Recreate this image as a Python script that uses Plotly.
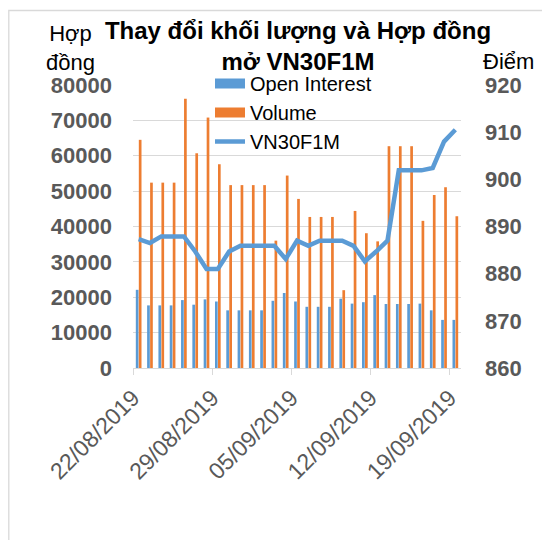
import plotly.graph_objects as go
import pandas as pd

# ---- data ----
dates = pd.date_range("2019-08-22", "2019-09-19", freq="D")
open_interest = [22100, 17700, 17700, 17700, 19200, 17900, 19400, 18800, 16300, 16300,
                 16300, 16300, 19000, 21200, 18800, 17300, 17300, 17300, 19600, 18200,
                 18600, 20600, 18100, 18100, 18100, 18200, 16300, 13600, 13600]
volume = [64500, 52400, 52400, 52400, 76100, 60700, 70800, 57600, 51700, 51700,
          51700, 51700, 36000, 54400, 47800, 42700, 42700, 42700, 22000, 44400,
          38100, 35800, 62700, 62700, 62700, 41600, 48900, 51100, 42900]
vn30f1m = [887.3, 886.5, 887.9, 887.9, 887.9, 884.7, 881.0, 881.0, 884.7, 885.9,
           885.9, 885.9, 885.9, 883.1, 887.0, 885.9, 887.0, 887.0, 887.0, 885.9,
           882.6, 884.7, 887.0, 901.9, 901.9, 901.9, 902.4, 908.0, 910.5]
tick_dates = ["2019-08-22", "2019-08-29", "2019-09-05", "2019-09-12", "2019-09-19"]
tick_labels = ["22/08/2019", "29/08/2019", "05/09/2019", "12/09/2019", "19/09/2019"]

BLUE = "#5B9BD5"
ORANGE = "#ED7D31"
GRID = "#D9D9D9"
TXT = "#595959"
FONT = "Liberation Sans, Arial, sans-serif"

OFF = 8  # page body margin
W, H = 542, 532
L, T = 125, 77
PW, PH = 328, 283
R, B = W - L - PW, H - T - PH


def sx(x):  # screen x -> paper
    return (x - OFF - L) / PW


def sy(y):  # screen y -> paper
    return (H - B - (y - OFF)) / PH


half_day = pd.Timedelta(hours=12)
tickvals = [pd.Timestamp(d) - half_day for d in tick_dates]

fig = go.Figure()
fig.add_trace(go.Bar(x=dates, y=open_interest, name="Open Interest",
                     marker=dict(color=BLUE, line=dict(width=0)), showlegend=False))
fig.add_trace(go.Bar(x=dates, y=volume, name="Volume",
                     marker=dict(color=ORANGE, line=dict(width=0)), showlegend=False))
# legend swatches (rectangular, like the original)
fig.add_trace(go.Scatter(x=[None], y=[None], mode="lines", name="Open Interest",
                         line=dict(color=BLUE, width=12)))
fig.add_trace(go.Scatter(x=[None], y=[None], mode="lines", name="Volume",
                         line=dict(color=ORANGE, width=12)))
fig.add_trace(go.Scatter(x=dates, y=vn30f1m, name="VN30F1M", mode="lines", yaxis="y2",
                         line=dict(color=BLUE, width=4.5)))

fig.update_layout(
    width=W, height=H,
    margin=dict(l=L, r=R, t=T, b=B, autoexpand=False),
    paper_bgcolor="white", plot_bgcolor="white",
    font=dict(family=FONT, color="black"),
    barmode="group", bargap=0.47, bargroupgap=0.1,
    title=dict(text="Thay đổi khối lượng và Hợp đồng<br>mở VN30F1M",
               font=dict(size=24, color="black", weight="bold", family=FONT),
               x=sx(298), xref="paper", xanchor="center",
               y=1 - 31 / H, yref="container", yanchor="top"),
    xaxis=dict(type="date",
               range=[pd.Timestamp("2019-08-22") - half_day, pd.Timestamp("2019-09-19") + half_day],
               tickvals=tickvals, ticktext=tick_labels, tickangle=-45,
               tickfont=dict(size=23, color=TXT, family=FONT),
               showgrid=False, showline=True, linecolor=GRID, linewidth=1.3,
               ticks="outside", ticklen=6, tickcolor=GRID, tickwidth=1.3, zeroline=False),
    yaxis=dict(range=[0, 80000], dtick=10000, tickformat="d",
               showgrid=True, gridcolor=GRID, gridwidth=1.3,
               zeroline=False, ticks="", ticklabelstandoff=20,
               tickfont=dict(size=22, color=TXT, family=FONT, weight="bold")),
    yaxis2=dict(range=[860, 920], dtick=10, tickformat="d", overlaying="y", side="right",
                showgrid=False, zeroline=False, ticks="", ticklabelstandoff=23,
                tickfont=dict(size=22, color=TXT, family=FONT, weight="bold")),
    legend=dict(x=sx(210), y=sy(64), xanchor="left", yanchor="top",
                bgcolor="rgba(0,0,0,0)", font=dict(size=20, color="black", family=FONT),
                tracegroupgap=0, itemwidth=30, traceorder="normal"),
    annotations=[
        dict(text="Hợp<br>đồng", xref="paper", yref="paper", x=sx(70), y=sy(77),
             xanchor="center", yanchor="bottom", showarrow=False,
             font=dict(size=22, color="black", family=FONT)),
        dict(text="Điểm", xref="paper", yref="paper", x=sx(508), y=sy(76),
             xanchor="center", yanchor="bottom", showarrow=False,
             font=dict(size=22, color="black", family=FONT)),
    ],
    shapes=[dict(type="rect", xref="paper", yref="paper", x0=sx(8.8), x1=sx(700),
                 y0=sy(700), y1=sy(10.5), line=dict(color=GRID, width=1.3),
                 fillcolor="rgba(0,0,0,0)", layer="below")],
)

fig.write_html("out.html")
